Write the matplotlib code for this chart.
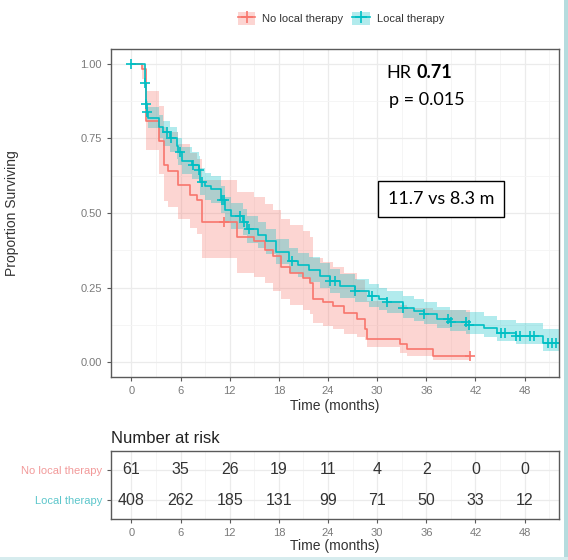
import numpy as np
import matplotlib
matplotlib.use("Agg")
import matplotlib.pyplot as plt
from matplotlib.lines import Line2D
from matplotlib.patches import Patch, Rectangle

plt.rcParams['font.family'] = ['Liberation Sans', 'DejaVu Sans']

RED = '#F8766D'
TEAL = '#00BFC4'

# No local therapy (n=61): step times, survival, CI
red_t = [0, 1.3, 1.8, 3.4, 4.0, 4.4, 5.7, 7.2, 8.0, 8.6, 12.9, 14.9, 16.3, 17.3, 18.2, 19.4,
         21.0, 21.8, 22.2, 23.4, 24.6, 25.9, 27.5, 28.5, 28.8, 32.8, 33.6, 36.8]
red_s = [1.0, 0.984, 0.81, 0.74, 0.66, 0.64, 0.595, 0.56, 0.545, 0.47, 0.42, 0.405, 0.377, 0.355, 0.32, 0.30,
         0.283, 0.266, 0.21, 0.20, 0.187, 0.166, 0.143, 0.11, 0.077, 0.06, 0.043, 0.02]
red_hi = [1.0, 1.0, 0.91, 0.86, 0.79, 0.77, 0.73, 0.70, 0.68, 0.61, 0.57, 0.555, 0.53, 0.51, 0.48, 0.46,
          0.44, 0.42, 0.35, 0.335, 0.32, 0.30, 0.275, 0.24, 0.205, 0.19, 0.18, 0.175]
red_lo = [1.0, 0.95, 0.71, 0.63, 0.54, 0.52, 0.48, 0.45, 0.43, 0.35, 0.30, 0.285, 0.265, 0.24, 0.21, 0.19,
          0.175, 0.16, 0.13, 0.12, 0.11, 0.095, 0.085, 0.075, 0.05, 0.03, 0.02, 0.008]
red_end = 41.3
red_cens = [11.3, 41.3]

# Local therapy (n=408)
teal_t = [0, 1.6, 1.75, 1.85, 2.0, 3.4, 3.9, 4.7, 5.5, 5.7, 6.2, 7.4, 8.2, 8.4, 9.0, 9.7, 10.9, 11.4,
          12.1, 13.6, 14.1, 15.5, 16.4, 17.6, 19.2, 20.3, 21.7, 23.0, 24.2, 25.5, 27.3, 29.0, 30.2,
          31.2, 33.1, 34.5, 35.7, 37.3, 38.9, 40.9, 43.0, 44.6, 47.0, 50.2]
teal_s = [1.0, 0.935, 0.865, 0.84, 0.82, 0.79, 0.77, 0.75, 0.725, 0.705, 0.675, 0.66, 0.645, 0.605,
          0.59, 0.58, 0.545, 0.51, 0.49, 0.47, 0.445, 0.425, 0.405, 0.37, 0.34, 0.325, 0.31, 0.29,
          0.272, 0.255, 0.24, 0.222, 0.21, 0.2, 0.182, 0.17, 0.16, 0.145, 0.134, 0.126, 0.115, 0.098,
          0.087, 0.065]
teal_hi = [1.0, 0.96, 0.90, 0.875, 0.855, 0.83, 0.81, 0.79, 0.77, 0.75, 0.72, 0.705, 0.69, 0.65,
           0.635, 0.625, 0.59, 0.555, 0.535, 0.515, 0.49, 0.47, 0.448, 0.412, 0.382, 0.367, 0.352,
           0.332, 0.313, 0.296, 0.28, 0.262, 0.25, 0.24, 0.222, 0.21, 0.2, 0.185, 0.174, 0.167,
           0.156, 0.14, 0.13, 0.11]
teal_lo = [1.0, 0.91, 0.83, 0.805, 0.785, 0.75, 0.725, 0.705, 0.68, 0.66, 0.63, 0.615, 0.6, 0.56,
           0.545, 0.535, 0.5, 0.465, 0.445, 0.425, 0.4, 0.382, 0.362, 0.328, 0.298, 0.284, 0.27,
           0.25, 0.233, 0.216, 0.202, 0.186, 0.175, 0.165, 0.148, 0.137, 0.127, 0.113, 0.103, 0.095,
           0.085, 0.07, 0.06, 0.037]
teal_end = 52.2
teal_cens = [0, 1.7, 1.8, 1.9, 4.3, 4.8, 5.9, 7.5, 8.3, 8.6, 11.0, 11.3, 13.2, 13.7, 14.4, 19.6,
             24.3, 24.8, 27.3, 29.4, 31.2, 33.1, 35.7, 38.6, 39.0, 40.8, 41.2, 45.1, 45.6, 47.0,
             47.4, 48.6, 49.2, 50.8, 51.3, 51.8]

groups = ['No local therapy', 'Local therapy']
risk_times = [0, 6, 12, 18, 24, 30, 36, 42, 48]
risk_no = [61, 35, 26, 19, 11, 4, 2, 0, 0]
risk_local = [408, 262, 185, 131, 99, 71, 50, 33, 12]

fig = plt.figure(figsize=(5.68, 5.60), dpi=100)
ax = fig.add_axes([111/568, 1-377/560, 448/568, 328/560])
axt = fig.add_axes([111/568, 1-519/560, 448/568, 68/560])

xticks = np.arange(0, 49, 6)
minor_x = np.arange(3, 52, 6)


def style(a):
    a.set_xlim(-2.5, 52.2)
    a.set_xticks(xticks)
    a.set_xticks(minor_x, minor=True)
    a.grid(True, which='major', color='#EBEBEB', lw=0.9)
    a.grid(True, which='minor', color='#F4F4F4', lw=0.6)
    a.set_axisbelow(True)
    for sp in a.spines.values():
        sp.set_color('#5a5a5a')
        sp.set_linewidth(1.0)
    a.tick_params(which='major', length=3, color='#5a5a5a', labelsize=8, labelcolor='#7a7a7a')
    a.tick_params(which='minor', length=0)


def km(a, t, s, lo, hi, end, cens, col):
    tt = list(t) + [end]
    a.fill_between(tt, list(lo) + [lo[-1]], list(hi) + [hi[-1]], step='post',
                   color=col, alpha=0.3, lw=0)
    a.step(tt, list(s) + [s[-1]], where='post', color=col, lw=1.2)
    idx = np.searchsorted(t, cens, side='right') - 1
    a.plot(cens, np.array(s)[idx], ls='none', marker='+', ms=7, mew=1.2, color=col)


style(ax)
km(ax, red_t, red_s, red_lo, red_hi, red_end, red_cens, RED)
km(ax, teal_t, teal_s, teal_lo, teal_hi, teal_end, teal_cens, TEAL)
ax.set_ylim(-0.05, 1.05)
ax.set_yticks([0, 0.25, 0.5, 0.75, 1.0])
ax.set_yticks([0.125, 0.375, 0.625, 0.875], minor=True)
ax.set_yticklabels(['0.00', '0.25', '0.50', '0.75', '1.00'])
ax.set_xlabel('Time (months)', fontsize=10, color='#333333', labelpad=2)
ax.set_ylabel('Proportion Surviving', fontsize=10, color='#333333', labelpad=44)

ax.text(34.15, 0.97, 'HR', ha='right', va='center', fontsize=13, family='Lato')
ax.text(34.8, 0.97, '0.71', ha='left', va='center', fontsize=13, family='Lato', fontweight='bold')
ax.text(36.1, 0.879, 'p = 0.015', ha='center', va='center', fontsize=13, family='Lato')
ax.text(37.8, 0.547, '11.7 vs 8.3 m', ha='center', va='center', fontsize=13, family='Lato',
        bbox=dict(boxstyle='square,pad=0.55', fc='white', ec='black', lw=1))

# risk table
style(axt)
axt.set_ylim(0.4, 2.6)
axt.set_yticks([2, 1])
axt.set_yticklabels(groups)
for lab, col in zip(axt.get_yticklabels(), ['#F29A9A', '#5CC6CB']):
    lab.set_color(col)
for x, n1, n2 in zip(risk_times, risk_no, risk_local):
    axt.text(x, 2, str(n1), ha='center', va='center', fontsize=11.5, color='#333333')
    axt.text(x, 1, str(n2), ha='center', va='center', fontsize=11.5, color='#333333')
axt.set_title('Number at risk', loc='left', fontsize=12, color='#222222', pad=6)
axt.set_xlabel('Time (months)', fontsize=10, color='#333333', labelpad=1)

# legend
h1 = (Patch(color=RED, alpha=0.3, lw=0), Line2D([], [], color=RED, marker='+', ms=8, mew=1.2, lw=1.2))
h2 = (Patch(color=TEAL, alpha=0.3, lw=0), Line2D([], [], color=TEAL, marker='+', ms=8, mew=1.2, lw=1.2))
fig.legend([h1, h2], groups, loc='center', bbox_to_anchor=(0.6, 0.967), ncol=2, frameon=False,
           fontsize=8, handlelength=1.6, handleheight=1.5, columnspacing=0.8, handletextpad=0.6,
           labelcolor='#333333')

# screenshot frame edges
fig.add_artist(Rectangle((1-4/568, 0), 4/568, 1, transform=fig.transFigure, color='#B5DCDE', lw=0))
fig.add_artist(Rectangle((0, 0), 1, 3/560, transform=fig.transFigure, color='#D6ECEE', lw=0))

fig.savefig('out.png', dpi=100)
